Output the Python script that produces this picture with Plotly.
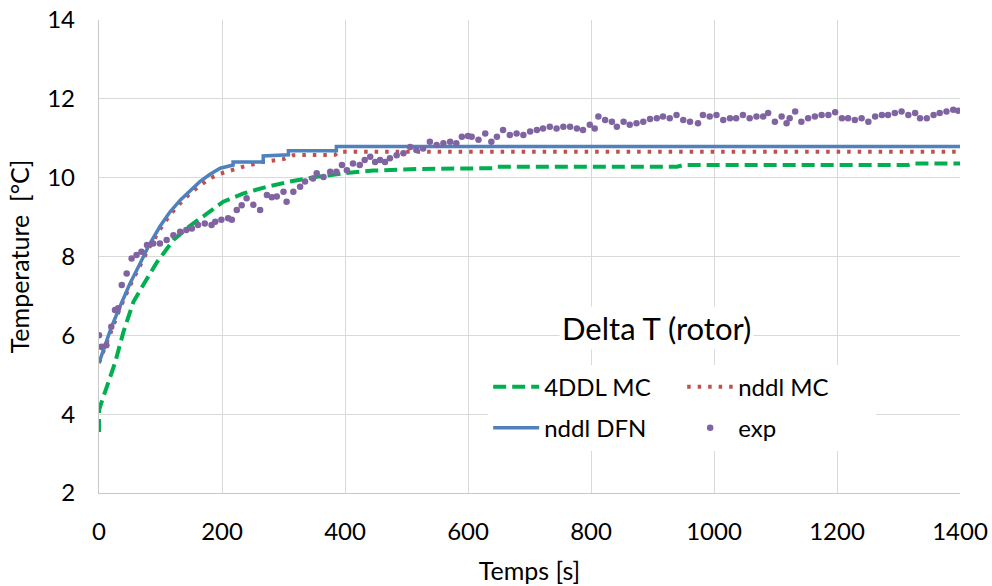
import plotly.graph_objects as go

FONT = "Lato"

# experimental points (exp)
exp_time = [
    0, 4, 12, 20, 26, 31, 37, 45, 53, 61,
    69, 78, 88, 99, 110, 121, 132, 142, 151, 161,
    172, 183, 189, 199, 210, 216, 224, 232, 240, 251,
    262, 273, 281, 289, 300, 305, 316, 327, 335, 348,
    354, 365, 376, 386, 395, 403, 413, 424, 432, 441,
    449, 457, 465, 473, 484, 495, 506, 516, 527, 538,
    549, 560, 571, 581, 590, 600, 606, 617, 628, 638,
    647, 657, 668, 679, 690, 701, 712, 722, 733, 744,
    755, 766, 777, 787, 798, 806, 812, 823, 834, 842,
    853, 863, 874, 885, 896, 907, 917, 928, 939, 950,
    961, 974, 982, 993, 1004, 1015, 1026, 1036, 1047, 1058,
    1069, 1080, 1088, 1099, 1110, 1118, 1123, 1132, 1142, 1153,
    1164, 1175, 1186, 1197, 1208, 1218, 1229, 1240, 1251, 1262,
    1273, 1283, 1294, 1305, 1316, 1327, 1335, 1346, 1357, 1367,
    1378, 1389, 1397,
]
exp_temp = [
    6.00, 5.71, 5.75, 6.22, 6.64, 6.69, 7.28, 7.57, 7.95, 8.04,
    8.12, 8.29, 8.33, 8.33, 8.42, 8.54, 8.63, 8.67, 8.71, 8.80,
    8.84, 8.80, 8.88, 8.93, 8.97, 8.93, 9.18, 9.30, 9.48, 9.31,
    9.18, 9.56, 9.50, 9.52, 9.64, 9.39, 9.64, 9.77, 9.90, 9.98,
    10.11, 10.02, 10.15, 10.15, 10.32, 10.19, 10.36, 10.32, 10.45, 10.53,
    10.40, 10.45, 10.40, 10.49, 10.57, 10.62, 10.78, 10.70, 10.74, 10.91,
    10.83, 10.87, 10.91, 10.87, 11.04, 11.06, 11.04, 10.96, 11.12, 10.91,
    11.04, 11.21, 11.08, 11.12, 11.08, 11.17, 11.21, 11.25, 11.29, 11.25,
    11.29, 11.29, 11.25, 11.21, 11.34, 11.25, 11.55, 11.46, 11.42, 11.29,
    11.42, 11.34, 11.38, 11.42, 11.49, 11.51, 11.55, 11.51, 11.59, 11.46,
    11.42, 11.38, 11.59, 11.55, 11.59, 11.46, 11.51, 11.51, 11.59, 11.51,
    11.55, 11.55, 11.64, 11.42, 11.55, 11.38, 11.51, 11.68, 11.42, 11.51,
    11.55, 11.59, 11.59, 11.66, 11.51, 11.51, 11.46, 11.51, 11.42, 11.55,
    11.59, 11.59, 11.64, 11.68, 11.59, 11.64, 11.51, 11.51, 11.59, 11.64,
    11.68, 11.72, 11.70,
]

# nddl DFN (stepped at the end)
dfn_time = [0, 10, 20, 34, 50, 67, 80, 99, 115, 132, 148, 164, 180, 197,
            218, 218, 267, 267, 308, 308, 386, 386, 1400]
dfn_temp = [5.30, 5.75, 6.20, 6.73, 7.30, 7.83, 8.25, 8.76, 9.12, 9.43, 9.68, 9.90, 10.08, 10.24,
            10.32, 10.40, 10.40, 10.55, 10.58, 10.68, 10.68, 10.79, 10.79]

# nddl MC
mc_time = [0, 10, 20, 34, 50, 67, 80, 99, 115, 132, 148, 164, 180, 197,
           235, 267, 300, 316, 384, 390, 1400]
mc_temp = [5.30, 5.70, 6.15, 6.68, 7.25, 7.78, 8.18, 8.68, 9.05, 9.35, 9.60, 9.80, 9.98, 10.10,
           10.28, 10.40, 10.47, 10.57, 10.58, 10.66, 10.66]

# 4DDL MC
ddl4_time = [0, 0, 3, 26, 40, 56, 75, 94, 121, 148, 175, 202, 235, 273,
             310, 354, 397, 446, 516, 600, 640, 645, 940, 950, 1315, 1325, 1400]
ddl4_temp = [3.55, 4.10, 4.25, 5.30, 6.10, 6.85, 7.36, 7.85, 8.42, 8.78, 9.08, 9.39, 9.60, 9.77,
             9.90, 10.02, 10.11, 10.18, 10.22, 10.23, 10.24, 10.28, 10.28, 10.32, 10.32, 10.36, 10.36]


def plot_delta_t():
    fig = go.Figure()

    fig.add_trace(go.Scatter(
        x=ddl4_time, y=ddl4_temp, mode="lines", name="4DDL MC",
        line=dict(color="#00B050", width=4, dash="13px,6px"),
        legend="legend",
    ))
    fig.add_trace(go.Scatter(
        x=mc_time, y=mc_temp, mode="lines", name="nddl MC",
        line=dict(color="#C0504D", width=4, dash="3.5px,7px"),
        legend="legend",
    ))
    fig.add_trace(go.Scatter(
        x=dfn_time, y=dfn_temp, mode="lines", name="nddl DFN",
        line=dict(color="#4F81BD", width=3.5),
        legend="legend2",
    ))
    fig.add_trace(go.Scatter(
        x=exp_time, y=exp_temp, mode="markers", name="exp",
        marker=dict(color="#8064A2", size=6.5),
        legend="legend2",
    ))

    axis_common = dict(
        showgrid=True, gridcolor="#D9D9D9", gridwidth=1.3,
        zeroline=False, showline=True, linecolor="#C8C8C8", linewidth=1.3,
        ticks="", tickfont=dict(size=24, color="#000000"),
        automargin=False,
    )

    legend_common = dict(
        orientation="h", xanchor="left", yanchor="middle",
        x=0.452, bgcolor="white", borderwidth=0,
        entrywidth=133, entrywidthmode="pixels", itemwidth=46,
        font=dict(size=24, color="#000000"),
        tracegroupgap=0,
    )

    fig.update_layout(
        width=992, height=586,
        margin=dict(l=99, r=32, t=20, b=93),
        paper_bgcolor="white", plot_bgcolor="white",
        font=dict(family=FONT, size=24, color="#000000"),
        xaxis=dict(
            range=[0, 1400], tick0=0, dtick=200,
            ticklabelstandoff=17,
            title=dict(text="Temps [s]", font=dict(size=25), standoff=18),
            **axis_common,
        ),
        yaxis=dict(
            range=[2, 14], tick0=2, dtick=2,
            ticklabelstandoff=18,
            title=dict(text="Temperature  [°C]", font=dict(size=25), standoff=10),
            **axis_common,
        ),
        legend=dict(y=0.224, **legend_common),
        legend2=dict(y=0.137, **legend_common),
        annotations=[dict(
            text="Delta T (rotor)", xref="paper", yref="paper",
            x=0.647, y=0.349, xanchor="center", yanchor="middle",
            showarrow=False, font=dict(size=31, color="#000000"),
            bgcolor="white", borderpad=2,
        )],
        showlegend=True,
    )

    fig.write_html(
        "out.html",
        config={"displayModeBar": False},
        post_script="document.body.style.margin='0';",
    )


if __name__ == "__main__":
    plot_delta_t()
